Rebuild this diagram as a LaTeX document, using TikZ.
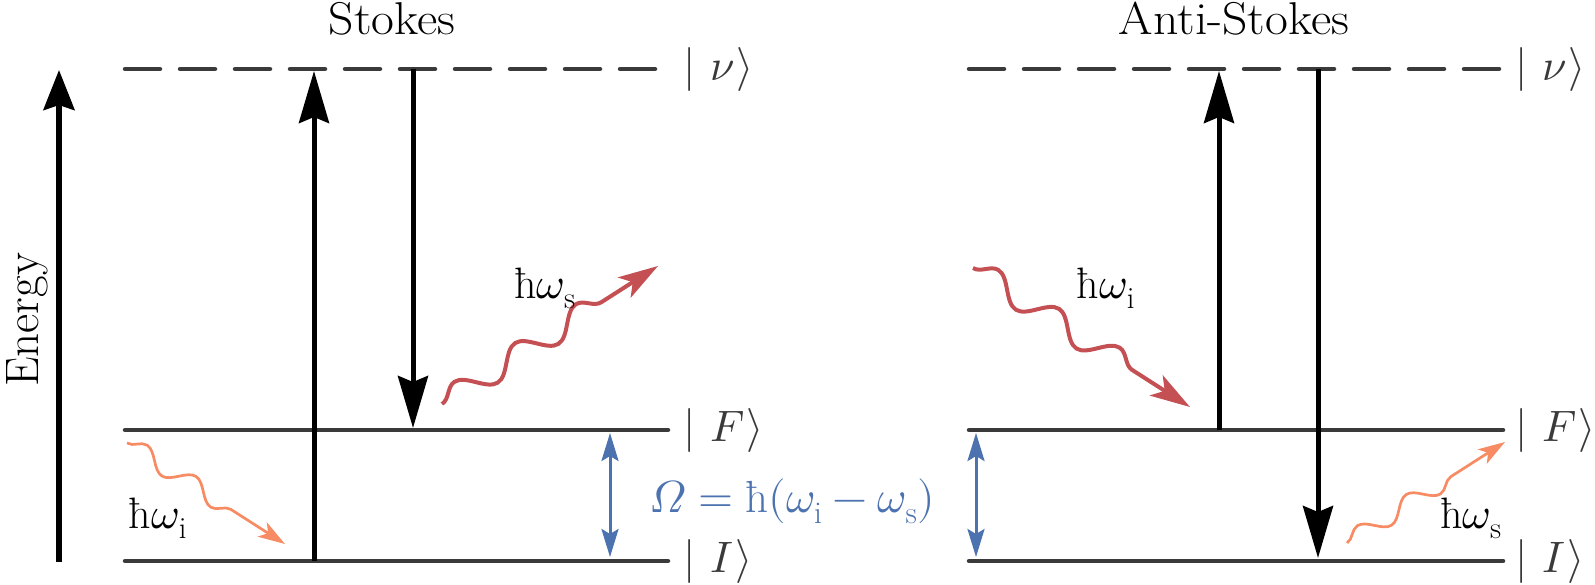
\documentclass[tikz,border=0pt]{standalone}
\usepackage{fontspec}
\usepackage[math-style=ISO]{unicode-math}
\setmathfont{Latin Modern Math}
\usetikzlibrary{arrows.meta,decorations.pathmorphing}
\definecolor{lvl}{RGB}{58,58,58}
\definecolor{phorange}{RGB}{247,140,100}
\definecolor{phred}{RGB}{196,80,84}
\definecolor{phblue}{RGB}{76,114,176}
\begin{document}
\begin{tikzpicture}[x=1pt,y=-1pt,
  every node/.style={font=\fontsize{44}{52}\selectfont, inner sep=0pt},
  level/.style={draw=lvl, line width=4.5pt, line cap=round},
  virt/.style={level, dash pattern=on 35pt off 20pt},
  trans/.style={draw=black, line width=5pt, -{Stealth[length=52pt,width=30pt,inset=6pt]}},
  gapline/.style={draw=phblue, line width=3pt, {Stealth[length=28pt,width=17pt,inset=5pt]}-{Stealth[length=28pt,width=17pt,inset=5pt]}},
  photonbig/.style={draw=phred, line width=4pt, decorate, decoration={snake, amplitude=12pt, segment length=72pt, post length=60pt}, -{Stealth[length=40pt,width=24pt,inset=10pt]}},
  photonsmall/.style={draw=phorange, line width=2.7pt, decorate, decoration={snake, amplitude=9pt, segment length=58pt, post length=48pt}, -{Stealth[length=27pt,width=17pt,inset=7pt]}},
  ket/.style={text=lvl, anchor=west},
  lbl/.style={anchor=base},
  title/.style={anchor=base, font=\fontsize{46}{55}\selectfont, xscale=1.08, transform shape},
]
\useasboundingbox (0,0) rectangle (1595,584);
% level coordinates
\coordinate (LVa) at (125,69);  \coordinate (LVb) at (668,69);
\coordinate (LFa) at (125,430); \coordinate (LFb) at (668,430);
\coordinate (LIa) at (125,561); \coordinate (LIb) at (668,561);
\coordinate (RVa) at (969,69);  \coordinate (RVb) at (1503,69);
\coordinate (RFa) at (969,430); \coordinate (RFb) at (1503,430);
\coordinate (RIa) at (969,561); \coordinate (RIb) at (1503,561);
% levels
\draw[virt] (LVa) -- (LVb);
\draw[level] (LFa) -- (LFb);
\draw[level] (LIa) -- (LIb);
\draw[virt] (RVa) -- (RVb);
\draw[level] (RFa) -- (RFb);
\draw[level] (RIa) -- (RIb);
% kets
\node[ket] (kLV) at (683,69) {$|\mkern6mu\nu\mkern1mu\rangle$};
\node[ket] (kLF) at (683,430) {$|\mkern6mu F\mkern1mu\rangle$};
\node[ket] (kLI) at (683,561) {$|\mkern6mu I\mkern1mu\rangle$};
\node[ket] (kRV) at (1515,69) {$|\mkern6mu\nu\mkern1mu\rangle$};
\node[ket] (kRF) at (1515,430) {$|\mkern6mu F\mkern1mu\rangle$};
\node[ket] (kRI) at (1515,561) {$|\mkern6mu I\mkern1mu\rangle$};
% titles
\node[title] (stokes) at (392,34) {Stokes};
\node[title] (anti) at (1234,34) {Anti-Stokes};
% energy axis
\coordinate (E0) at (59,562); \coordinate (E1) at (59,70);
\draw[draw=black, line width=5.5pt, -{Stealth[length=40pt,width=31pt,inset=5pt]}] (E0) -- (E1);
\node[rotate=90, font=\fontsize{47}{56}\selectfont] (energy) at (27,320) {Energy};
% transitions
\coordinate (su0) at (314,561); \coordinate (su1) at (314,71);
\coordinate (sd0) at (413,69);  \coordinate (sd1) at (413,428);
\coordinate (au0) at (1219,430); \coordinate (au1) at (1219,71);
\coordinate (ad0) at (1318,69);  \coordinate (ad1) at (1318,558);
\draw[trans] (su0) -- (su1);
\draw[trans] (sd0) -- (sd1);
\draw[trans] (au0) -- (au1);
\draw[trans] (ad0) -- (ad1);
% energy gap
\coordinate (g1a) at (610,433); \coordinate (g1b) at (610,557);
\coordinate (g2a) at (976,433); \coordinate (g2b) at (976,557);
\draw[gapline] (g1a) -- (g1b);
\draw[gapline] (g2a) -- (g2b);
\node[lbl, text=phblue, font=\fontsize{45}{54}\selectfont] (omega) at (792,512) {$\Omega = \mbox{ħ}(\omega_{\mathrm{i}} - \omega_{\mathrm{s}})$};
% photons
\coordinate (w1a) at (127,443);  \coordinate (w1b) at (285,544);
\coordinate (w2a) at (442,404);  \coordinate (w2b) at (658,266);
\coordinate (w3a) at (973,268);  \coordinate (w3b) at (1190,407);
\coordinate (w4a) at (1347,543); \coordinate (w4b) at (1505,442);
\draw[photonsmall] (w1a) -- (w1b);
\draw[photonbig] (w2a) -- (w2b);
\draw[photonbig] (w3a) -- (w3b);
\draw[photonsmall] (w4a) -- (w4b);
\node[lbl] (l1) at (158,528) {$\mbox{ħ}\omega_{\mathrm{i}}$};
\node[lbl] (l2) at (545,298) {$\mbox{ħ}\omega_{\mathrm{s}}$};
\node[lbl] (l3) at (1106,298) {$\mbox{ħ}\omega_{\mathrm{i}}$};
\node[lbl] (l4) at (1471,528) {$\mbox{ħ}\omega_{\mathrm{s}}$};
\end{tikzpicture}
\end{document}
